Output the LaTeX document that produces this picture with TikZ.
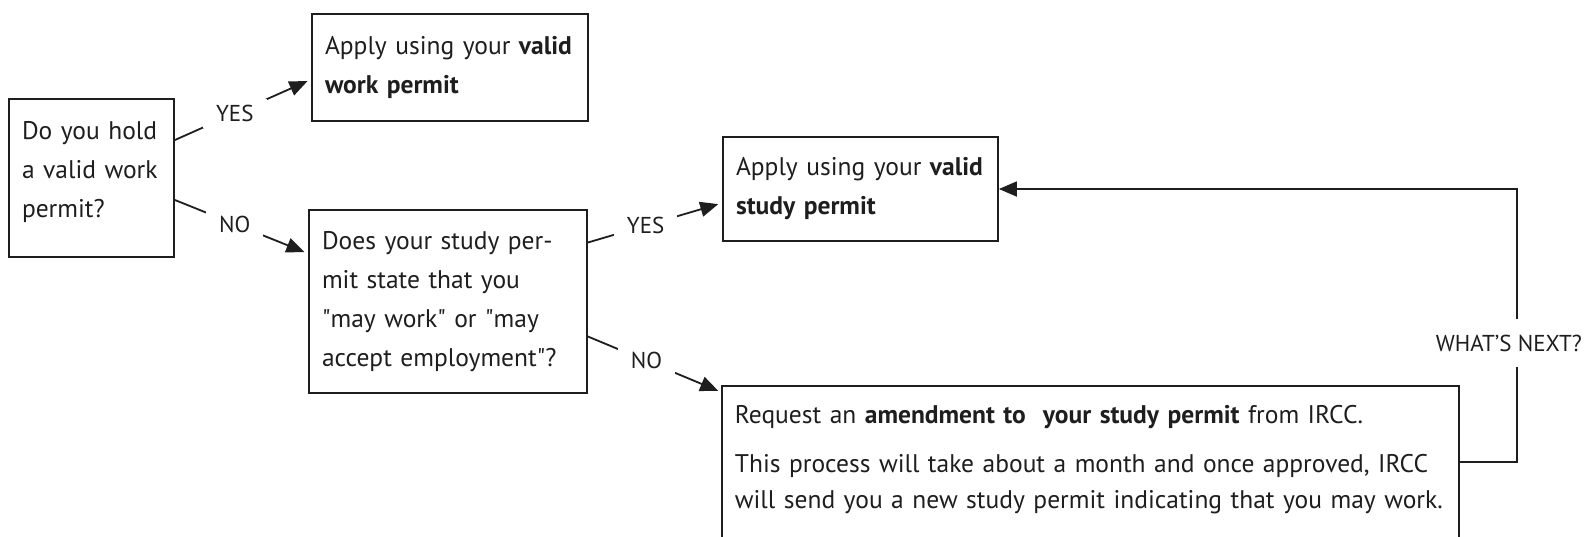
\documentclass[tikz,border=0pt]{standalone}
\usepackage{fontspec}
\setmainfont{PT Sans}
\usetikzlibrary{arrows.meta,calc}
\definecolor{ink}{HTML}{1E1E1E}
\tikzset{
  box/.style={draw=ink, line width=1.8pt, rectangle, align=left, inner xsep=13pt, inner ysep=0pt,
    text=ink, font=\fontsize{25.5}{39}\selectfont},
  conn/.style={draw=ink, line width=1.8pt, -{Triangle[length=18pt,width=15pt]}, shorten >=4pt},
  lbl/.style={fill=white, inner xsep=13pt, inner ysep=6pt, text=ink, font=\fontsize{23}{27}\selectfont},
}
\begin{document}
\begin{tikzpicture}[x=1pt,y=-1pt]
\useasboundingbox (0,0) rectangle (1588,536);
\clip (0,0) rectangle (1588,536);
\fill[white] (0,0) rectangle (1588,536);

\node[box, minimum width=165, minimum height=158, text width=139pt] (q1) at (91.5,178)
  {Do you hold\\a valid work\\permit?\par\vspace{12pt}};
\node[box, minimum width=276, minimum height=107, text width=250pt] (a1) at (450,67.5)
  {Apply using your \textbf{valid}\\\textbf{work permit}};
\node[box, minimum width=278, minimum height=183, text width=252pt] (q2) at (448,301.5)
  {Does your study per-\\mit state that you\\\textquotedbl may work\textquotedbl\ or \textquotedbl may\\accept employment\textquotedbl ?};
\node[box, minimum width=275, minimum height=104, text width=249pt] (a2) at (860.5,189)
  {Apply using your \textbf{valid}\\\textbf{study permit}};
\node[box, anchor=north west, minimum width=737, text width=711pt, inner ysep=19pt,
  font=\fontsize{25.5}{36}\selectfont] (a3) at (721,385)
  {Request an \textbf{amendment to\ \ your study permit} from IRCC.\par\vspace{13pt}
   This process will take about a month and once approved, IRCC\\
   will send you a new study permit indicating that you may work.\par\vspace{40pt}};

\draw[conn] ([yshift=38pt]q1.east) -- node[lbl, pos=0.44] (y1) {YES} ([yshift=-12pt]a1.west);
\draw[conn] ([yshift=-22pt]q1.east) -- node[lbl, pos=0.45] (n1) {NO} ([yshift=48pt]q2.west);
\draw[conn] ([yshift=59pt]q2.east) -- node[lbl, pos=0.43] (y2) {YES} ([yshift=-14pt]a2.west);
\draw[conn, shorten >=3pt] ([yshift=-35pt]q2.east) -- node[lbl, pos=0.44] (n2) {NO} ([yshift=-7pt]a3.north west);
\draw[conn, shorten >=0pt] ([yshift=-77pt]a3.north east) -- ++(57,0) coordinate (turn)
  |- node[lbl, pos=0.218, xshift=-8pt, inner xsep=2pt, inner ysep=16pt] (wn) {WHAT’S NEXT?} (a2.east);
\end{tikzpicture}
\end{document}
